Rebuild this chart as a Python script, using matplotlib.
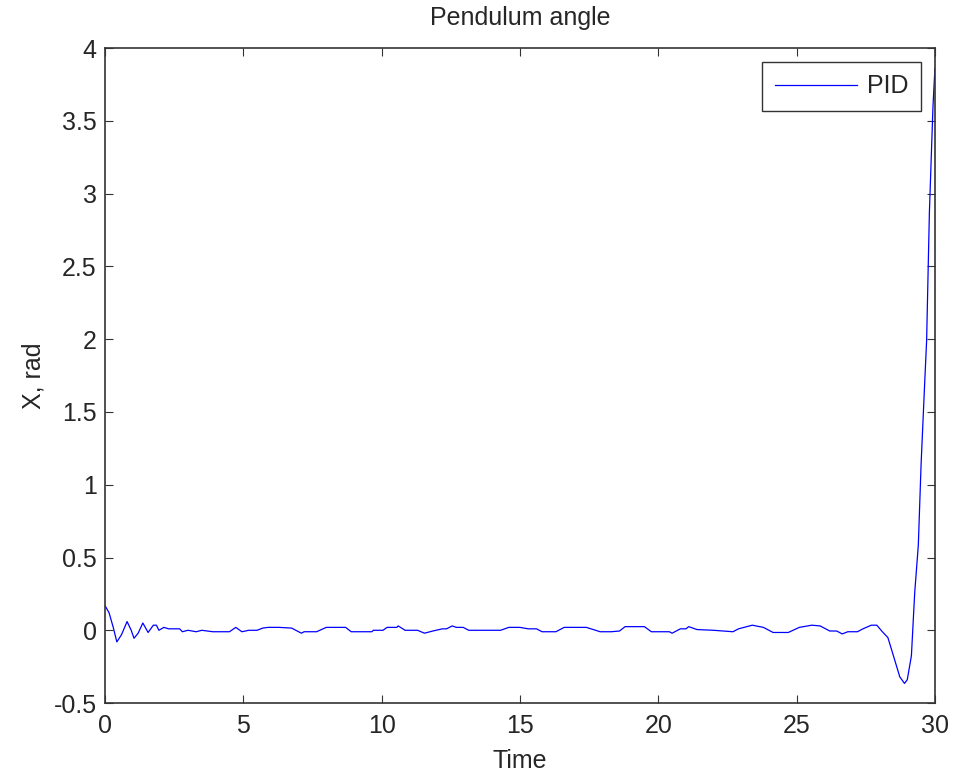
import matplotlib.pyplot as plt

# time samples and pendulum angle
t = [0.0, 0.15, 0.3, 0.43, 0.6, 0.8, 0.95, 1.05, 1.2, 1.37,
     1.56, 1.75, 1.86, 1.95, 2.13, 2.3, 2.7, 2.8, 3.0, 3.3,
     3.5, 3.9, 4.5, 4.73, 4.95, 5.2, 5.5, 5.7, 5.9, 6.3,
     6.75, 7.1, 7.2, 7.65, 8.0, 8.7, 8.9, 9.65, 9.7, 10.05,
     10.2, 10.55, 10.6, 10.85, 11.3, 11.55, 11.85, 12.2, 12.35, 12.55,
     12.7, 12.95, 13.15, 13.5, 14.3, 14.6, 15.0, 15.3, 15.6, 15.8,
     16.3, 16.6, 17.4, 17.9, 18.3, 18.6, 18.8, 19.5, 19.75, 20.4,
     20.5, 20.8, 21.0, 21.1, 21.4, 22.0, 22.7, 22.9, 23.4, 23.8,
     24.15, 24.7, 25.1, 25.55, 25.85, 26.2, 26.45, 26.65, 26.85, 27.2,
     27.4, 27.7, 27.9, 28.1, 28.3, 28.5, 28.73, 28.9, 29.0, 29.15,
     29.27, 29.4, 29.5, 29.63, 29.7, 29.8, 29.93, 30.0]
angle = [0.17, 0.12, 0.02, -0.08, -0.03, 0.06, 0.0, -0.055, -0.02, 0.05,
         -0.015, 0.035, 0.035, 0.0, 0.02, 0.01, 0.01, -0.01, 0.0, -0.01,
         0.0, -0.01, -0.01, 0.02, -0.01, 0.0, 0.0, 0.015, 0.02, 0.02,
         0.015, -0.02, -0.01, -0.01, 0.02, 0.02, -0.01, -0.01, 0.0, 0.0,
         0.02, 0.02, 0.03, 0.0, 0.0, -0.02, -0.005, 0.01, 0.01, 0.03,
         0.02, 0.02, 0.0, 0.0, 0.0, 0.02, 0.02, 0.01, 0.01, -0.01,
         -0.01, 0.02, 0.02, -0.01, -0.01, -0.005, 0.025, 0.025, -0.01, -0.01,
         -0.02, 0.01, 0.01, 0.025, 0.005, 0.0, -0.01, 0.01, 0.035, 0.02,
         -0.015, -0.015, 0.02, 0.035, 0.03, -0.005, -0.005, -0.025, -0.01, -0.01,
         0.01, 0.035, 0.035, -0.01, -0.05, -0.175, -0.32, -0.365, -0.34, -0.175,
         0.26, 0.585, 1.14, 1.70, 1.99, 2.87, 3.6, 3.86]

x_ticks = [0, 5, 10, 15, 20, 25, 30]
y_ticks = [-0.5, 0, 0.5, 1, 1.5, 2, 2.5, 3, 3.5, 4]
y_tick_labels = ['-0.5', '0', '0.5', '1', '1.5', '2', '2.5', '3', '3.5', '4']

plt.rcParams['font.family'] = ['Liberation Sans', 'DejaVu Sans']
plt.rcParams['font.size'] = 18
txt = '#262626'

fig = plt.figure(figsize=(9.54, 7.76), dpi=100)
ax = fig.add_axes([0.110, 0.094, 0.870, 0.844])

ax.plot(t, angle, color='#0000ff', lw=0.9, label='PID')

ax.set_xlim(0, 30)
ax.set_ylim(-0.5, 4)
ax.set_xticks(x_ticks)
ax.set_yticks(y_ticks)
ax.set_yticklabels(y_tick_labels)
ax.tick_params(direction='in', length=6, width=0.8, top=True, right=True,
               colors='#333333', labelcolor=txt, labelsize=18)
ax.tick_params(axis='x', pad=8)
ax.tick_params(axis='y', pad=6)
for s in ax.spines.values():
    s.set_color('#333333')
    s.set_linewidth(1.2)

ax.set_title('Pendulum angle', fontsize=18, color=txt, pad=17)
ax.set_xlabel('Time', fontsize=18, color=txt, labelpad=8)
ax.set_ylabel('X, rad', fontsize=18, color=txt, labelpad=6)

leg = ax.legend(loc='upper right', fancybox=False, framealpha=1,
                edgecolor='#333333', handlelength=3.3, borderpad=0.5,
                borderaxespad=0.55, fontsize=18, handletextpad=0.4)
leg.get_frame().set_linewidth(1.0)
for tx in leg.get_texts():
    tx.set_color(txt)

fig.savefig('out.png', dpi=100)
